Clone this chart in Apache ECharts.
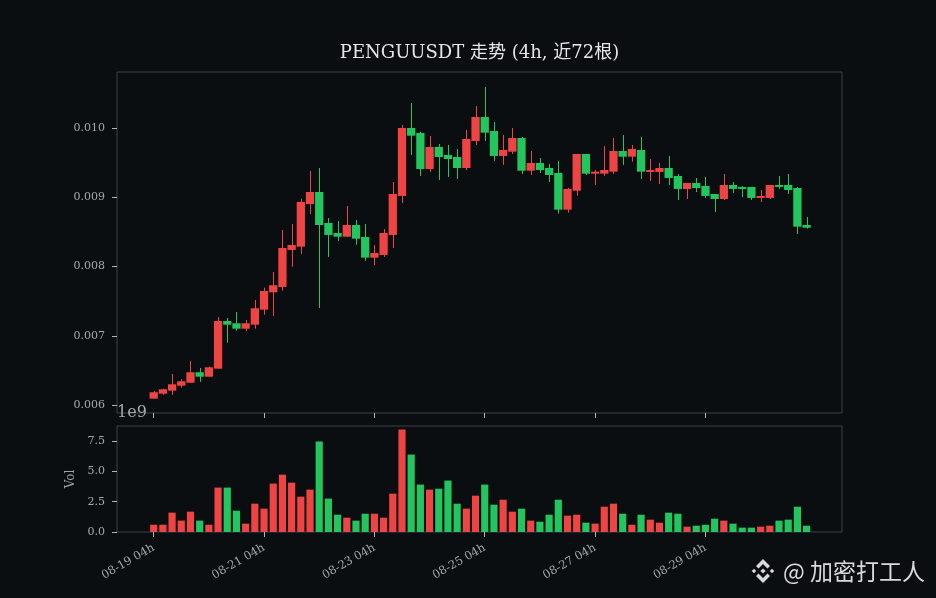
<!DOCTYPE html>
<html>
<head>
<meta charset="utf-8">
<script src="https://cdn.jsdelivr.net/npm/echarts@6/dist/echarts.min.js"></script>
<style>
html,body{margin:0;padding:0;background:#0b0e11;}
#c{width:936px;height:598px;}
</style>
</head>
<body>
<div id="c"></div>
<script>
// ---- data (4h candles, 72 bars) ----
const opens = [0.006091,0.006163,0.006207,0.006279,0.006322,0.006473,0.006409,0.006525,0.007214,0.007181,
0.007103,0.007161,0.007378,0.007629,0.007706,0.008241,0.008289,0.008906,0.009079,0.008631,
0.008487,0.008433,0.008602,0.008429,0.008130,0.008169,0.008458,0.009022,0.010005,0.009932,
0.009412,0.009730,0.009614,0.009585,0.009426,0.009817,0.010164,0.009961,0.009600,0.009662,
0.009860,0.009387,0.009499,0.009426,0.009354,0.008824,0.009098,0.009629,0.009344,0.009344,
0.009373,0.009672,0.009590,0.009687,0.009369,0.009369,0.009426,0.009311,0.009123,0.009210,
0.009166,0.009050,0.008978,0.009181,0.009152,0.009152,0.008993,0.008993,0.009181,0.009181,
0.009137,0.008602];
const closes = [0.006184,0.006227,0.006299,0.006343,0.006473,0.006409,0.006545,0.007214,0.007161,0.007103,
0.007181,0.007398,0.007648,0.007731,0.008270,0.008313,0.008935,0.009079,0.008602,0.008458,
0.008433,0.008602,0.008404,0.008130,0.008197,0.008487,0.009050,0.010005,0.009893,0.009412,
0.009730,0.009585,0.009556,0.009426,0.009846,0.010164,0.009937,0.009600,0.009687,0.009860,
0.009387,0.009499,0.009397,0.009325,0.008824,0.009123,0.009629,0.009344,0.009373,0.009397,
0.009672,0.009590,0.009701,0.009373,0.009397,0.009426,0.009282,0.009123,0.009210,0.009137,
0.009022,0.008978,0.009181,0.009123,0.009123,0.008993,0.009022,0.009181,0.009152,0.009108,
0.008578,0.008563];
const highs = [0.006202,0.006236,0.006448,0.006376,0.006636,0.006535,0.006554,0.007272,0.007258,0.007345,
0.007229,0.007518,0.007696,0.007923,0.008530,0.008617,0.008983,0.009383,0.009426,0.008703,
0.008660,0.008877,0.008675,0.008617,0.008313,0.008544,0.009224,0.010048,0.010366,0.009947,
0.009889,0.009773,0.009759,0.009701,0.009976,0.010323,0.010597,0.010091,0.009903,0.010005,
0.009875,0.009672,0.009571,0.009484,0.009528,0.009137,0.009629,0.009629,0.009397,0.009744,
0.009860,0.009903,0.009759,0.009875,0.009556,0.009499,0.009600,0.009340,0.009210,0.009282,
0.009296,0.009050,0.009340,0.009224,0.009166,0.009152,0.009108,0.009181,0.009311,0.009340,
0.009152,0.008718];
const lows = [0.006091,0.006145,0.006145,0.006250,0.006322,0.006333,0.006409,0.006525,0.006901,0.007074,
0.007070,0.007103,0.007305,0.007287,0.007652,0.007999,0.008183,0.008761,0.007402,0.008140,
0.008371,0.008429,0.008317,0.008082,0.008024,0.008140,0.008270,0.008920,0.009614,0.009311,
0.009369,0.009253,0.009296,0.009267,0.009397,0.009759,0.009817,0.009528,0.009470,0.009629,
0.009340,0.009325,0.009354,0.009224,0.008766,0.008780,0.009026,0.009325,0.009181,0.009311,
0.009340,0.009470,0.009517,0.009267,0.009238,0.009195,0.009181,0.008964,0.008978,0.009079,
0.008993,0.008790,0.008964,0.009065,0.009007,0.008964,0.008935,0.008978,0.009123,0.009050,
0.008472,0.008549];
const volumes = [0.60e9,0.60e9,1.60e9,0.94e9,1.68e9,0.94e9,0.60e9,3.67e9,3.67e9,1.76e9,
0.69e9,2.34e9,1.93e9,4.00e9,4.74e9,4.08e9,2.92e9,3.50e9,7.48e9,2.76e9,
1.43e9,1.18e9,0.94e9,1.51e9,1.51e9,1.18e9,3.17e9,8.47e9,6.40e9,3.92e9,
3.50e9,3.58e9,4.25e9,2.34e9,1.93e9,3.00e9,3.92e9,2.26e9,2.67e9,1.68e9,
1.93e9,0.94e9,0.85e9,1.43e9,2.67e9,1.35e9,1.43e9,0.77e9,0.69e9,2.09e9,
2.34e9,1.51e9,0.60e9,1.43e9,1.02e9,0.77e9,1.60e9,1.51e9,0.44e9,0.52e9,
0.60e9,1.10e9,0.94e9,0.69e9,0.36e9,0.36e9,0.44e9,0.52e9,0.94e9,1.02e9,
2.09e9,0.52e9];
const tickPositions = [0,12,24,36,48,60];
const tickLabels = ['08-19 04h','08-21 04h','08-23 04h','08-25 04h','08-27 04h','08-29 04h'];
const priceTicks = [0.006,0.007,0.008,0.009,0.010];
const volTicks = [0,2.5e9,5e9,7.5e9];
const titleText = 'PENGUUSDT 走势 (4h, 近72根)';

// ---- style ----
const UP = '#ef4444', DOWN = '#22c55e';
const BG = '#0b0e11', FRAME = '#3a414d', TXT = '#a3a8b0', TICK = '#b0b5bc';
const SERIF = "'DejaVu Serif', 'Noto Sans CJK SC', serif";

const candleData = opens.map((o, i) => [i, o, closes[i], lows[i], highs[i]]);
const volData = volumes.map((v, i) => [i, v, closes[i] >= opens[i] ? 1 : 0]);

const chart = echarts.init(document.getElementById('c'), null, {renderer: 'canvas'});

const xCommon = {
  type: 'value', min: -3.99, max: 74.85,
  axisLine: {show: false, onZero: false},
  splitLine: {show: false},
  axisTick: {show: true, length: 5, inside: false, lineStyle: {color: TICK, width: 1}, customValues: tickPositions}
};

chart.setOption({
  backgroundColor: BG,
  animation: false,
  grid: [
    {left: 117, top: 72, width: 725, height: 341, show: true, borderColor: FRAME, borderWidth: 1, backgroundColor: 'transparent'},
    {left: 117, top: 426, width: 725, height: 106, show: true, borderColor: FRAME, borderWidth: 1, backgroundColor: 'transparent'}
  ],
  xAxis: [
    Object.assign({}, xCommon, {gridIndex: 0, axisLabel: {show: false}}),
    Object.assign({}, xCommon, {gridIndex: 1, axisLabel: {
      show: true, customValues: tickPositions, rotate: 30, margin: 15,
      color: TXT, fontFamily: SERIF, fontSize: 11.5,
      formatter: v => { const k = tickPositions.indexOf(Math.round(v)); return k >= 0 ? tickLabels[k] : ''; }
    }})
  ],
  yAxis: [
    {type: 'value', gridIndex: 0, min: 0.005884, max: 0.010814, scale: true,
     axisLine: {show: false, onZero: false}, splitLine: {show: false},
     axisTick: {show: true, length: 5, lineStyle: {color: TICK}, customValues: priceTicks},
     axisLabel: {show: true, customValues: priceTicks, color: TXT, fontFamily: SERIF, fontSize: 11, margin: 12,
       formatter: v => v.toFixed(3)}},
    {type: 'value', gridIndex: 1, min: 0, max: 8.76e9,
     name: 'Vol', nameLocation: 'middle', nameGap: 38, nameRotate: 90,
     nameTextStyle: {color: TXT, fontFamily: SERIF, fontSize: 12},
     axisLine: {show: false, onZero: false}, splitLine: {show: false},
     axisTick: {show: true, length: 5, lineStyle: {color: TICK}, customValues: volTicks},
     axisLabel: {show: true, customValues: volTicks, color: TXT, fontFamily: SERIF, fontSize: 11, margin: 12,
       formatter: v => (v / 1e9).toFixed(1)}}
  ],
  series: [
    {
      type: 'custom', xAxisIndex: 0, yAxisIndex: 0, clip: true,
      data: candleData,
      encode: {x: 0, y: [1, 2, 3, 4]},
      renderItem: function (params, api) {
        const i = api.value(0), o = api.value(1), c = api.value(2), l = api.value(3), h = api.value(4);
        const pO = api.coord([i, o]), pC = api.coord([i, c]);
        const pL = api.coord([i, l]), pH = api.coord([i, h]);
        const w = api.size([0.9, 0])[0];
        const col = c >= o ? UP : DOWN;
        const top = Math.min(pO[1], pC[1]);
        const hgt = Math.max(Math.abs(pO[1] - pC[1]), 1.2);
        const cx = Math.round(pO[0]) + 0.5;
        return {
          type: 'group',
          children: [
            {type: 'line', shape: {x1: cx, y1: pH[1], x2: cx, y2: pL[1]}, style: {stroke: col, lineWidth: 1}},
            {type: 'rect', shape: {x: pO[0] - w / 2, y: top, width: w, height: hgt}, style: {fill: col}}
          ]
        };
      }
    },
    {
      type: 'custom', xAxisIndex: 1, yAxisIndex: 1, clip: true,
      data: volData,
      encode: {x: 0, y: 1},
      renderItem: function (params, api) {
        const i = api.value(0), v = api.value(1), up = api.value(2);
        const p0 = api.coord([i, 0]), p1 = api.coord([i, v]);
        const w = api.size([0.78, 0])[0];
        return {type: 'rect', shape: {x: p0[0] - w / 2, y: p1[1], width: w, height: p0[1] - p1[1]},
                style: {fill: up ? UP : DOWN}};
      }
    }
  ],
  graphic: [
    {type: 'text', x: 479.5, y: 53, style: {text: titleText, fill: '#e6e6e6', font: "18px 'DejaVu Serif', 'Noto Sans CJK SC', serif", textAlign: 'center', textVerticalAlign: 'middle'}},
    {type: 'text', x: 117, y: 413, style: {text: '1e9', fill: TXT, font: "16px 'DejaVu Serif', serif", textAlign: 'left', textVerticalAlign: 'middle'}},
    {type: 'group', x: 763, y: 571, children: [
      {type: 'polygon', shape: {points: [[0,-12],[7,-5],[4.5,-2.5],[0,-7],[-4.5,-2.5],[-7,-5]]}, style: {fill: '#d9d9d9'}},
      {type: 'polygon', shape: {points: [[0,12],[7,5],[4.5,2.5],[0,7],[-4.5,2.5],[-7,5]]}, style: {fill: '#d9d9d9'}},
      {type: 'polygon', shape: {points: [[0,-2.6],[2.6,0],[0,2.6],[-2.6,0]]}, style: {fill: '#d9d9d9'}},
      {type: 'polygon', shape: {points: [[-9,-2.3],[-6.7,0],[-9,2.3],[-11.3,0]]}, style: {fill: '#d9d9d9'}},
      {type: 'polygon', shape: {points: [[9,-2.3],[11.3,0],[9,2.3],[6.7,0]]}, style: {fill: '#d9d9d9'}}
    ]},
    {type: 'text', x: 783, y: 571, style: {text: '@ 加密打工人', fill: '#d9d9d9', font: "23px 'Noto Sans CJK SC', sans-serif", textAlign: 'left', textVerticalAlign: 'middle'}}
  ]
});
</script>
</body>
</html>
